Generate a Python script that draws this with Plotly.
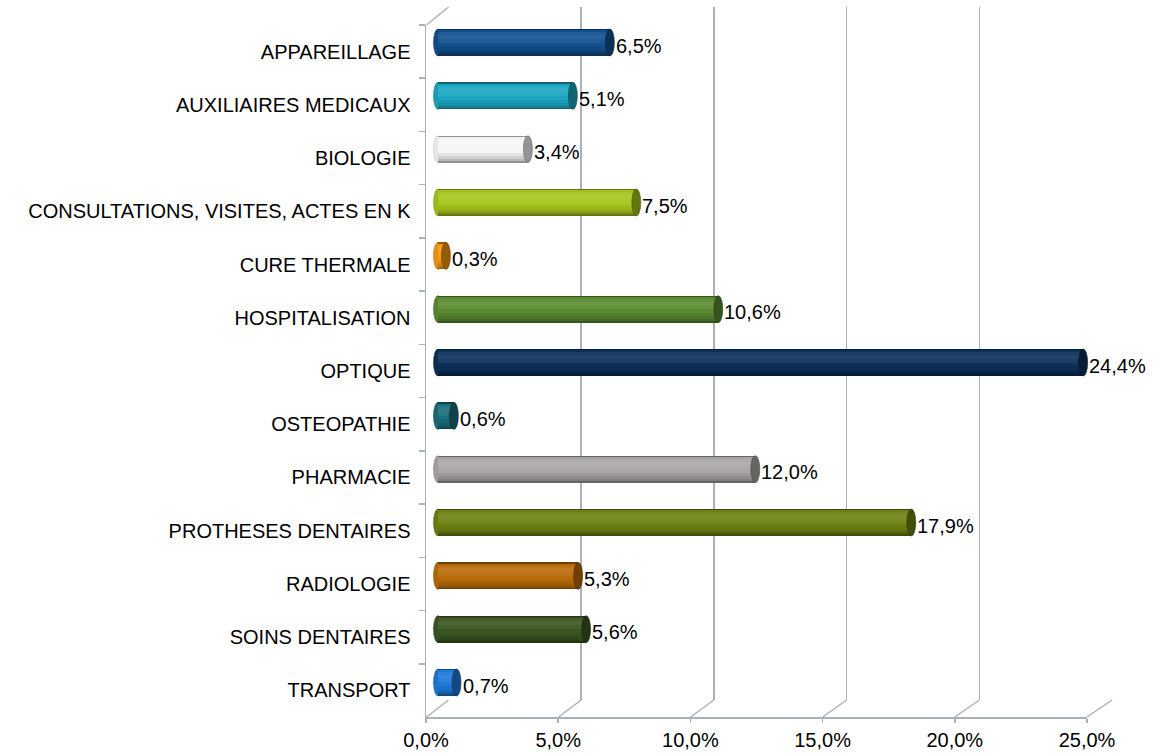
import plotly.graph_objects as go

# ---------------- data ----------------
categories = ["APPAREILLAGE", "AUXILIAIRES MEDICAUX", "BIOLOGIE",
              "CONSULTATIONS, VISITES, ACTES EN K", "CURE THERMALE",
              "HOSPITALISATION", "OPTIQUE", "OSTEOPATHIE", "PHARMACIE",
              "PROTHESES DENTAIRES", "RADIOLOGIE", "SOINS DENTAIRES", "TRANSPORT"]
values = [6.5, 5.1, 3.4, 7.5, 0.3, 10.6, 24.4, 0.6, 12.0, 17.9, 5.3, 5.6, 0.7]
tick_values = [0, 5, 10, 15, 20, 25]
tick_labels = ["0,0%", "5,0%", "10,0%", "15,0%", "20,0%", "25,0%"]
bar_colors = ["#11508f", "#1ba7c2", "#f6f6f6", "#a6c51c", "#f39a12", "#5b8b31",
              "#0c3059", "#1b6e79", "#aaa6a6", "#6c8212", "#b96b09", "#3b5621", "#1f7ad9"]

# ---------------- geometry (pixels) ----------------
W, H = 1176, 753
L, R, T, B = 426, 64, 7, 36
PW, PH = W - L - R, H - T - B          # plot area 686 x 710
GRID = "#a9b2bb"
FONT = "Liberation Sans, Arial, sans-serif"
FS = 20

def hex2rgb(h):
    h = h.lstrip("#")
    return [int(h[i:i + 2], 16) for i in (0, 2, 4)]

def rgb2hex(c):
    return "#%02x%02x%02x" % tuple(max(0, min(255, int(round(v)))) for v in c)

def shade(h, f):
    c = hex2rgb(h)
    if f >= 0:
        return rgb2hex([v + (255 - v) * f for v in c])
    return rgb2hex([v * (1 + f) for v in c])

# profile top->bottom of the cylinder (fraction, lightness factor)
profile = [(0.00, -0.40), (0.05, -0.02), (0.12, 0.06), (0.22, 0.10), (0.36, 0.06),
           (0.50, 0.0), (0.64, -0.07), (0.76, -0.15), (0.86, -0.25), (0.94, -0.40)]

fig = go.Figure()

# invisible traces to create the subplots
fig.add_trace(go.Scatter(x=[0], y=[0], xaxis="x", yaxis="y", mode="markers",
                         marker=dict(opacity=0), showlegend=False, hoverinfo="skip"))
fig.add_trace(go.Scatter(x=[0] * len(categories), y=categories, xaxis="x2", yaxis="y2",
                         mode="markers", marker=dict(opacity=0), showlegend=False,
                         hoverinfo="skip"))

thick = 0.506  # bar thickness in category units
for s, f in profile:
    fig.add_trace(go.Bar(
        x=values, y=categories, orientation="h", xaxis="x3", yaxis="y3",
        width=thick * (1 - s), offset=-thick / 2 + thick * s,
        marker=dict(color=[shade(c, f) for c in bar_colors], line=dict(width=0)),
        showlegend=False, hoverinfo="skip"))

shapes = []
annotations = []
cap = 0.17  # half width of the end ellipses in value units
for i, (v, c) in enumerate(zip(values, bar_colors)):
    y0, y1 = i - thick / 2, i + thick / 2
    # rounded left end
    shapes.append(dict(type="circle", xref="x3", yref="y3", x0=-cap, x1=cap, y0=y0, y1=y1,
                       fillcolor=shade(c, -0.06), line=dict(width=0.6, color=shade(c, -0.2)),
                       layer="between"))
    # dark end cap
    shapes.append(dict(type="circle", xref="x3", yref="y3", x0=v - cap, x1=v + cap,
                       y0=y0, y1=y1, fillcolor=shade(c, -0.40),
                       line=dict(width=0.6, color=shade(c, -0.55)), layer="above"))
    annotations.append(dict(x=v, y=categories[i], xref="x3", yref="y3",
                            text=("%.1f" % v).replace(".", ",") + "%",
                            showarrow=False, xanchor="left", yanchor="middle",
                            xshift=4, yshift=-3,
                            font=dict(family=FONT, size=FS, color="#000000")))

# floor diagonals joining front axis to back wall gridlines
fx0, fx1 = 0.5, 661.0      # front axis pixel offsets (0% and 25%)
bx0, bx1 = 22.5, 686.0     # back wall pixel offsets
for k in tick_values:
    t = k / 25.0
    shapes.append(dict(type="line", xref="paper", yref="paper",
                       x0=(fx0 + (fx1 - fx0) * t) / PW, y0=0,
                       x1=(bx0 + (bx1 - bx0) * t) / PW, y1=17 / PH,
                       line=dict(color=GRID, width=1.5), layer="below"))
# left wall top diagonal
shapes.append(dict(type="line", xref="paper", yref="paper",
                   x0=fx0 / PW, y0=(717 - 25) / PH, x1=bx0 / PW, y1=1.0,
                   line=dict(color=GRID, width=1.5), layer="below"))

bar_x0 = 12.0     # pixel offset of 0 % for the bars (mid depth)
bar_span = 661.0  # pixels for 25 %

fig.update_layout(
    width=W, height=H,
    margin=dict(l=L, r=R, t=T, b=B, autoexpand=False),
    paper_bgcolor="white", plot_bgcolor="rgba(0,0,0,0)",
    barmode="overlay", bargap=0, showlegend=False,
    font=dict(family=FONT, size=FS, color="#000000"),
    # back wall grid
    xaxis=dict(domain=[bx0 / PW, 1.0], range=[0, 25], anchor="y",
               tickvals=tick_values, showticklabels=False, ticks="",
               showgrid=True, gridcolor=GRID, gridwidth=1.5, zeroline=False,
               showline=False, fixedrange=True, automargin=False),
    yaxis=dict(domain=[17 / PH, 1.0], range=[0, 1], anchor="x", visible=False,
               showgrid=False, fixedrange=True, automargin=False),
    # front axes with labels
    xaxis2=dict(domain=[0, fx1 / PW], range=[0, 25], anchor="y2",
                tickvals=tick_values, ticktext=tick_labels,
                showgrid=False, zeroline=False, showline=True, linecolor=GRID,
                linewidth=1.5, ticks="outside", ticklen=4, tickcolor=GRID,
                tickwidth=1.5, tickfont=dict(family=FONT, size=FS, color="#000000"),
                fixedrange=True, automargin=False),
    yaxis2=dict(domain=[0, (717 - 25) / PH], type="category",
                categoryorder="array", categoryarray=categories,
                range=[len(categories) - 0.5, -0.5], anchor="x2",
                showgrid=False, zeroline=False, showline=True, linecolor=GRID,
                linewidth=1.5, ticks="outside", tickson="boundaries", ticklen=6,
                tickcolor=GRID, tickwidth=1.5, ticklabelstandoff=10,
                tickfont=dict(family=FONT, size=FS, color="#000000"),
                fixedrange=True, automargin=False),
    # bars (mid-depth); domain starts at the wall so the rounded ends are not clipped
    xaxis3=dict(domain=[0, (bar_x0 + bar_span) / PW],
                range=[-bar_x0 * 25 / bar_span, 25], anchor="y3",
                visible=False, fixedrange=True, automargin=False),
    yaxis3=dict(domain=[(717 - 709.17) / PH, (717 - 15.83) / PH], type="category",
                categoryorder="array", categoryarray=categories,
                range=[len(categories) - 0.5, -0.5], anchor="x3",
                visible=False, fixedrange=True, automargin=False),
    shapes=shapes, annotations=annotations,
)

fig.write_html("out.html", config={"displayModeBar": False, "staticPlot": True},
               post_script="document.body.style.margin='0';"
                           "document.body.style.overflow='hidden';")
